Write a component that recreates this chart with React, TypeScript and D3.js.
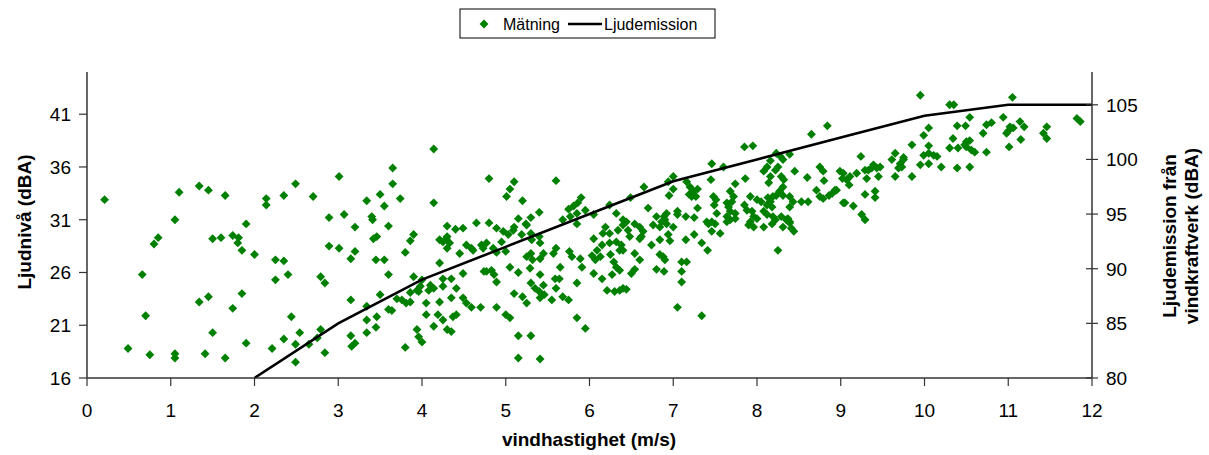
import React from "react";
import * as d3 from "d3";

// Measured sound level (left axis, dBA) vs wind speed (m/s)
const measurements: [number, number][] = [
  [0.21,32.9],[1.05,31.0],[1.10,33.6],[1.34,34.2],[1.45,33.8],[1.65,33.3],[1.90,30.6],[2.14,33.0],[2.14,32.4],[2.35,33.3],[2.49,34.4],[2.70,33.2],[2.89,31.2],[3.01,35.1],[3.07,31.5],
  [0.85,29.3],[0.80,28.7],[1.50,29.2],[1.60,29.3],[1.74,29.5],[1.81,29.3],[1.80,28.8],[1.85,28.1],[2.00,27.7],[2.89,28.5],[3.01,28.3],[0.66,25.8],[2.25,27.2],[2.35,27.1],[2.25,25.3],[2.40,25.8],[2.79,25.6],[2.84,25.0],[1.34,23.2],[1.45,23.7],[1.85,24.0],[1.74,22.6],[0.70,21.9],[2.44,21.8],[1.50,20.3],[2.54,20.3],[2.79,20.6],[2.75,19.8],[2.35,19.7],[2.49,19.2],[2.65,19.2],[2.21,18.8],[1.90,19.3],[2.84,18.4],[2.49,17.5],[0.49,18.8],[0.75,18.2],[1.05,18.3],[1.05,17.9],[1.41,18.3],[1.65,17.9],
  [4.14,37.7],[3.65,35.9],[3.65,34.4],[3.50,33.4],[3.34,32.8],[3.74,33.0],[3.55,32.3],[3.40,31.3],[3.41,31.0],[3.20,30.3],[3.60,30.4],[4.14,32.6],[4.80,34.9],[5.10,34.6],[5.05,33.9],[5.01,33.2],[5.20,32.8],[5.60,34.7],[5.90,33.1],[5.86,32.6],[5.81,32.3],[5.75,32.0],[5.95,31.9],[5.40,31.7],[5.30,31.2],[5.15,31.1],[5.24,30.6],[5.10,30.3],[4.65,30.7],[4.80,30.7],[4.89,30.2],[4.30,30.4],[4.40,30.1],[4.49,30.2],[5.68,31.0],[5.77,31.3],[5.85,31.6],[5.85,30.6],[6.05,31.5],
  [3.42,29.2],[3.46,29.4],[3.20,28.0],[3.15,27.3],[3.45,27.2],[3.55,27.2],[3.86,29.0],[3.90,29.6],[3.80,27.9],[4.21,29.1],[4.30,29.4],[4.25,28.9],[4.33,28.8],[4.30,28.3],[4.29,29.2],[4.21,26.9],[4.45,27.8],[4.53,28.6],[4.59,28.3],[4.61,28.1],[4.71,28.6],[4.77,28.8],[4.73,28.3],[4.85,28.3],[4.89,27.9],[5.00,28.0],[4.95,28.9],[5.03,29.6],[5.09,30.0],[4.97,29.9],[5.19,29.6],[5.25,30.5],[5.30,29.7],[5.31,29.1],[5.41,28.8],[5.40,29.4],[4.77,26.1],[4.83,26.2],[4.86,25.8],[4.89,25.1],[4.74,26.1],[4.49,25.9],[5.05,26.5],[5.15,26.0],[5.25,27.5],[5.30,27.8],[5.32,27.2],[5.41,27.3],[5.45,27.8],[5.57,27.8],[5.60,28.3],[5.29,26.4],[5.41,25.8],[5.30,25.0],[5.35,24.5],[5.40,24.2],[5.45,24.8],[5.46,23.9],[5.41,23.6],[5.55,23.4],[5.60,24.5],[5.64,25.4],[5.65,26.5],[5.59,25.4],[5.76,28.0],[5.79,27.5],[5.89,27.3],[5.91,26.5],[5.85,25.0],
  [5.68,23.7],[5.75,23.4],[5.85,21.7],[5.95,20.7],[5.15,20.0],[5.30,20.0],[5.15,17.9],[5.41,17.8],[5.00,22.0],[5.05,21.7],[5.10,24.0],[5.20,23.7],[5.25,23.1],[4.89,22.7],[4.70,22.7],[4.49,23.6],[4.53,23.1],[4.59,22.7],[4.35,23.6],[4.41,24.5],[4.35,25.4],[4.25,25.4],[4.25,24.7],[4.21,23.2],[4.19,22.0],[4.25,21.5],[4.37,21.8],[4.41,22.0],[4.14,20.9],[4.30,20.6],[4.35,20.4],[4.05,23.1],[4.05,22.0],[4.10,24.8],[4.08,24.3],[4.14,24.5],[4.00,25.3],[3.98,24.7],[3.96,24.2],[3.94,24.3],[3.90,25.6],[3.86,24.1],[3.81,23.1],[3.86,23.2],[3.76,23.4],[3.70,23.5],[3.60,25.8],[3.50,23.9],[3.60,22.5],[3.64,22.4],[3.34,22.8],[3.15,23.4],[3.34,21.5],[3.46,21.8],[3.34,20.3],[3.45,20.8],[3.15,20.0],[3.20,19.3],[3.16,19.0],[3.94,20.6],[3.96,19.9],[4.00,19.4],[3.80,18.9],
  [8.84,39.9],[8.65,39.1],[7.85,37.9],[7.95,38.0],[8.28,37.0],[8.31,36.7],[8.39,37.2],[8.23,37.3],[8.16,36.6],[8.12,36.0],[8.08,35.6],[8.16,35.1],[8.22,35.7],[8.25,36.0],[8.45,35.6],[8.75,36.0],[8.79,35.6],[8.80,34.7],[8.60,35.0],[8.99,35.6],[9.02,34.9],[8.95,33.8],[8.90,33.5],[8.29,35.1],[8.32,34.8],[8.31,34.1],[8.27,33.7],[8.31,33.3],[8.23,33.3],[8.19,33.2],[8.13,33.1],[8.16,32.7],[8.12,32.4],[8.18,32.2],[8.14,34.5],[8.39,33.2],[8.43,32.7],[8.39,32.2],[8.53,32.7],[8.61,32.7],[8.71,33.8],[8.75,33.2],[8.79,33.0],[8.86,33.3],[8.93,33.8],[9.03,32.6],[7.86,34.9],[7.74,34.4],[7.46,36.3],[7.60,36.0],[7.45,34.8],[7.00,35.1],[6.94,34.6],[7.00,33.9],[6.95,33.3],[6.65,34.1],[6.49,33.1],[6.24,32.4],[7.16,34.6],[7.20,34.1],[7.19,33.4],[7.24,33.7],[7.29,33.9],[7.27,33.2],[7.22,33.2],[7.29,32.1],[7.48,33.2],[7.51,32.9],[7.49,32.4],[7.52,31.6],[7.46,30.8],[7.42,30.6],[7.50,30.6],[7.68,33.7],[7.72,33.2],[7.70,32.7],[7.64,32.6],[7.66,32.2],[7.68,31.8],[7.74,31.6],[7.64,31.3],[7.68,31.0],[7.74,31.1],[7.85,32.4],[7.88,31.9],[7.94,31.8],[7.96,31.3],[8.00,31.1],[7.92,30.8],[7.92,33.2],[8.00,32.9],[8.05,32.7],[8.08,31.8],[8.12,31.5],[8.19,31.3],[8.18,30.6],[8.29,31.3],[8.35,31.0],[8.39,30.7],[8.31,30.3],[8.41,30.2],[8.37,31.1],[7.05,31.8],[7.15,31.3],[7.25,31.2],[7.05,31.5],[6.70,32.1],[6.92,31.6],[6.89,31.3],[6.80,31.3],[6.86,30.8],[6.76,30.5],[6.84,30.3],[6.92,30.6],[7.00,30.3],[6.40,31.0],[6.44,30.8],[6.54,30.6],[6.60,30.3],[6.32,31.6],[6.19,30.3],[7.90,30.5],[8.08,30.3],
  [6.16,29.7],[6.24,29.7],[6.05,29.2],[6.09,28.1],[6.15,28.6],[6.13,27.5],[6.03,27.6],[6.07,27.2],[6.05,25.9],[6.15,25.4],[6.21,24.3],[6.27,25.8],[6.25,27.7],[6.29,27.0],[6.32,26.5],[6.36,26.2],[6.30,24.2],[6.36,24.3],[6.40,24.5],[6.44,24.4],[6.24,28.8],[6.32,28.9],[6.38,28.6],[6.40,28.1],[6.36,28.1],[6.34,30.0],[6.40,30.5],[6.46,30.0],[6.48,29.4],[6.64,29.9],[6.60,29.2],[6.62,29.4],[6.54,27.8],[6.50,25.9],[6.54,26.3],[6.60,27.2],[6.90,31.0],[6.94,29.6],[6.84,29.1],[6.96,29.0],[6.74,28.6],[6.84,27.7],[6.88,27.5],[6.90,27.2],[6.80,26.3],[6.89,26.1],[7.10,27.0],[7.16,27.0],[7.10,26.1],[7.10,25.1],[7.05,22.7],[7.34,21.9],[7.15,29.1],[7.25,29.6],[7.34,28.8],[7.41,28.1],[7.40,30.8],[7.46,29.9],[7.56,29.7],[7.64,30.8],[7.96,30.3],[8.22,31.0],[8.39,30.8],[8.44,29.9],[8.25,28.1],
  [9.95,42.8],[10.30,41.9],[10.35,41.9],[11.05,42.6],[10.54,40.7],[10.94,40.7],[11.82,40.6],[11.86,40.3],[10.05,39.7],[10.39,39.9],[10.49,39.9],[10.74,40.0],[10.80,40.2],[10.70,39.2],[11.14,40.3],[11.19,39.8],[11.02,39.8],[11.06,39.7],[10.98,39.2],[11.00,39.4],[11.46,39.8],[11.42,39.2],[11.46,38.7],[11.15,38.6],[9.99,39.0],[9.85,38.1],[10.34,38.7],[10.05,38.0],[10.05,37.3],[9.99,37.1],[10.11,37.1],[10.15,37.0],[10.30,37.8],[10.40,37.8],[10.50,38.4],[10.54,38.5],[10.48,38.1],[10.56,37.6],[10.60,37.4],[10.50,37.9],[10.74,37.4],[11.01,37.9],[9.95,36.2],[10.05,36.3],[10.20,36.0],[10.39,35.9],[10.54,36.0],[9.85,35.1],[9.65,35.1],[9.65,37.3],[9.75,36.9],[9.71,36.3],[9.73,36.0],[9.69,35.9],[9.61,36.7],[9.75,36.7],[9.24,37.0],[9.39,36.2],[9.43,35.9],[9.47,36.0],[9.37,35.9],[9.33,35.7],[9.31,34.9],[9.29,35.7],[9.45,35.1],[9.41,33.7],[9.41,33.1],[9.29,33.4],[9.19,35.4],[9.11,35.1],[9.03,35.4],[9.07,34.8],[9.10,34.3],[9.05,32.6],[9.15,32.3],[9.25,31.5],[9.29,31.0],
];

// Turbine sound emission (right axis, dBA)
const emissionWind = [2, 3, 4, 5, 6, 7, 8, 9, 10, 11, 12];
const emissionLevel = [80, 85, 89, 92, 95, 98, 100, 102, 104, 105, 105];

const xTicks = [0, 1, 2, 3, 4, 5, 6, 7, 8, 9, 10, 11, 12];
const leftTicks = [16, 21, 26, 31, 36, 41];
const rightTicks = [80, 85, 90, 95, 100, 105];

const W = 1209, H = 455;
const L = 87, R = 1092, T = 72, B = 378;
const FONT = "Arial, 'Liberation Sans', sans-serif";
const GREEN = "#008000";
const AXIS = "#333333";

export default function App() {
  const x = d3.scaleLinear().domain([0, 12]).range([L, R]);
  const yL = d3.scaleLinear().domain([16, 45]).range([B, T]);
  const yR = d3.scaleLinear().domain([80, 108]).range([B, T]);
  const line = d3
    .line<number>()
    .x((_, i) => x(emissionWind[i]))
    .y((d) => yR(d));
  const diamond = d3.symbol().type(d3.symbolDiamond2).size(50)();

  return (
    <svg
      width={W}
      height={H}
      style={{ position: "absolute", left: 0, top: 0, background: "#fff" }}
      fontFamily={FONT}
    >
      <rect x={0} y={0} width={W} height={H} fill="#fff" />
      {/* points */}
      {measurements.map(([wx, wy], i) => (
        <path key={i} d={diamond!} transform={`translate(${x(wx)},${yL(wy)})`} fill={GREEN} />
      ))}
      {/* emission line */}
      <path d={line(emissionLevel)!} fill="none" stroke="#000" strokeWidth={2.6} />

      {/* axes */}
      <line x1={L} x2={L} y1={T} y2={B} stroke={AXIS} strokeWidth={1.5} />
      <line x1={R} x2={R} y1={T} y2={B} stroke={AXIS} strokeWidth={1.5} />
      <line x1={L} x2={R} y1={B} y2={B} stroke={AXIS} strokeWidth={1.5} />
      {xTicks.map((t) => (
        <g key={"x" + t}>
          <line x1={x(t)} x2={x(t)} y1={B} y2={B + 8} stroke={AXIS} strokeWidth={1.2} />
          <text x={x(t)} y={417} textAnchor="middle" fontSize={19}>
            {t}
          </text>
        </g>
      ))}
      {leftTicks.map((t) => (
        <g key={"l" + t}>
          <line x1={L - 8} x2={L} y1={yL(t)} y2={yL(t)} stroke={AXIS} strokeWidth={1.2} />
          <text x={71} y={yL(t)} dy="0.36em" textAnchor="end" fontSize={19}>
            {t}
          </text>
        </g>
      ))}
      {rightTicks.map((t) => (
        <g key={"r" + t}>
          <line x1={R - 6} x2={R + 6} y1={yR(t)} y2={yR(t)} stroke={AXIS} strokeWidth={1.2} />
          <text x={1106} y={yR(t)} dy="0.36em" textAnchor="start" fontSize={19}>
            {t}
          </text>
        </g>
      ))}

      {/* axis titles */}
      <text x={589} y={446} textAnchor="middle" fontSize={19} fontWeight="bold">
        vindhastighet (m/s)
      </text>
      <text transform="translate(31,222) rotate(-90)" textAnchor="middle" fontSize={19} fontWeight="bold">
        Ljudnivå (dBA)
      </text>
      <text transform="translate(1176,236) rotate(-90)" textAnchor="middle" fontSize={19} fontWeight="bold">
        Ljudemission från
      </text>
      <text transform="translate(1198,236) rotate(-90)" textAnchor="middle" fontSize={19} fontWeight="bold">
        vindkraftverk (dBA)
      </text>

      {/* legend */}
      <rect x={460} y={9} width={255} height={29} fill="#fff" stroke="#000" strokeWidth={1} />
      <path d={diamond!} transform="translate(484,24)" fill={GREEN} />
      <text x={503} y={24} dy="0.36em" fontSize={16}>
        Mätning
      </text>
      <line x1={568} x2={602} y1={24} y2={24} stroke="#000" strokeWidth={2.6} />
      <text x={604} y={24} dy="0.36em" fontSize={16}>
        Ljudemission
      </text>
    </svg>
  );
}
